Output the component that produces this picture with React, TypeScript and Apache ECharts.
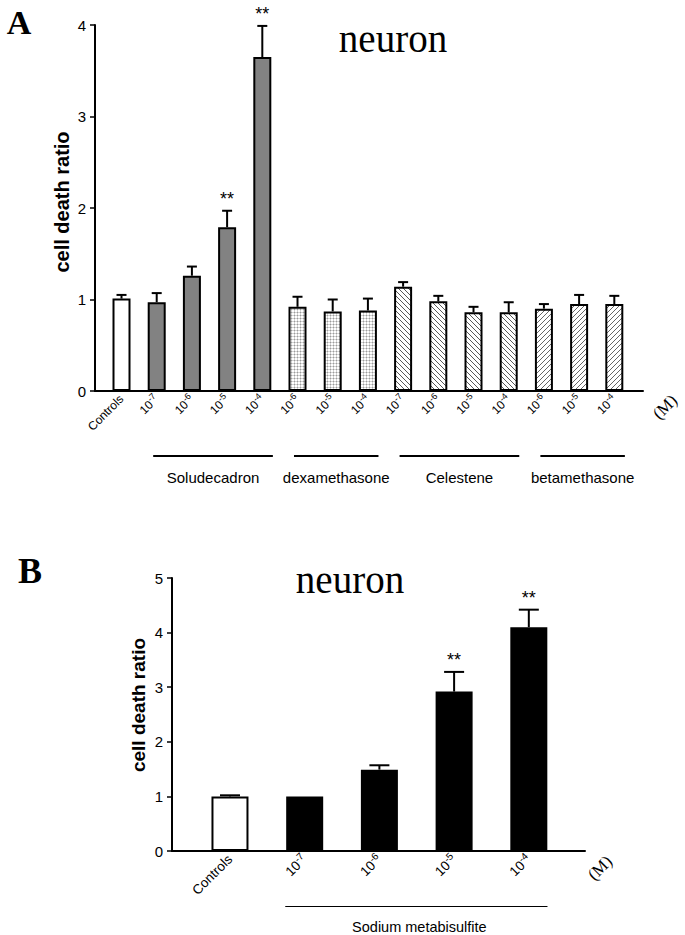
import React, { useEffect, useRef } from 'react';
import * as echarts from 'echarts';

// ---------- Panel A data ----------
const categoriesA = ['Controls', '10{s|-7}', '10{s|-6}', '10{s|-5}', '10{s|-4}', '10{s|-6}', '10{s|-5}', '10{s|-4}', '10{s|-7}', '10{s|-6}', '10{s|-5}', '10{s|-4}', '10{s|-6}', '10{s|-5}', '10{s|-4}'];
const meansA = [1.01, 0.97, 1.26, 1.79, 3.65, 0.92, 0.87, 0.88, 1.14, 0.98, 0.86, 0.86, 0.90, 0.95, 0.95];
const semA = [0.04, 0.10, 0.10, 0.18, 0.34, 0.11, 0.13, 0.13, 0.05, 0.06, 0.06, 0.11, 0.05, 0.10, 0.09];
const starsA = [0, 0, 0, 1, 1, 0, 0, 0, 0, 0, 0, 0, 0, 0, 0];
const fillA = ['control', 'solu', 'solu', 'solu', 'solu', 'dexa', 'dexa', 'dexa', 'cel', 'cel', 'cel', 'cel', 'beta', 'beta', 'beta'];
const groupsA = [
  { name: 'Soludecadron', from: 1, to: 4 },
  { name: 'dexamethasone', from: 5, to: 7 },
  { name: 'Celestene', from: 8, to: 11 },
  { name: 'betamethasone', from: 12, to: 14 },
];
const yTicksA = { min: 0, max: 4, interval: 1 };

// ---------- Panel B data ----------
const categoriesB = ['Controls', '10{s|-7}', '10{s|-6}', '10{s|-5}', '10{s|-4}'];
const meansB = [1.0, 1.0, 1.49, 2.92, 4.10];
const semB = [0.02, 0.0, 0.08, 0.36, 0.32];
const starsB = [0, 0, 0, 1, 1];
const fillB = ['control', 'sodium', 'sodium', 'sodium', 'sodium'];
const groupsB = [{ name: 'Sodium metabisulfite', from: 1, to: 4 }];
const yTicksB = { min: 0, max: 5, interval: 1 };

const SANS = 'Arial, "Liberation Sans", Helvetica, sans-serif';
const SERIF = '"Times New Roman", "Liberation Serif", serif';

function makePattern(kind: string): any {
  const size = kind === 'dexa' ? 3 : 5;
  const c = document.createElement('canvas');
  c.width = size;
  c.height = size;
  const ctx = c.getContext('2d')!;
  ctx.fillStyle = '#ffffff';
  ctx.fillRect(0, 0, size, size);
  if (kind === 'dexa') {
    ctx.fillStyle = '#d2d2d2';
    ctx.fillRect(0, 0, 3, 1);
    ctx.fillRect(0, 0, 1, 3);
    ctx.fillStyle = '#9c9c9c';
    ctx.fillRect(0, 0, 1, 1);
  } else if (kind === 'cel') {
    ctx.fillStyle = '#585858';
    for (let i = 0; i < size; i++) ctx.fillRect(i, i, 1, 1);
  } else if (kind === 'beta') {
    ctx.fillStyle = '#666666';
    for (let i = 0; i < size; i++) ctx.fillRect(size - 1 - i, i, 1, 1);
  }
  return { image: c, repeat: 'repeat', imageWidth: size, imageHeight: size };
}

function fillFor(kind: string): any {
  if (kind === 'control') return '#ffffff';
  if (kind === 'solu') return '#828282';
  if (kind === 'sodium') return '#000000';
  return makePattern(kind);
}

function errSeries(axisIdx: number, means: number[], sems: number[], stars: number[], capHalf: number, lw: number, starSize: number) {
  return {
    type: 'custom',
    xAxisIndex: axisIdx,
    yAxisIndex: axisIdx,
    z: 5,
    clip: false,
    data: means.map((m, i) => [i, m, sems[i], stars[i]]),
    renderItem: (params: any, api: any) => {
      const x = api.value(0);
      const m = api.value(1);
      const s = api.value(2);
      const st = api.value(3);
      const p0 = api.coord([x, m]);
      const p1 = api.coord([x, m + s]);
      const children: any[] = [];
      if (s > 0) {
        children.push({
          type: 'line',
          shape: { x1: p0[0], y1: p0[1], x2: p1[0], y2: p1[1] },
          style: { stroke: '#000', lineWidth: lw },
        });
        children.push({
          type: 'line',
          shape: { x1: p1[0] - capHalf, y1: p1[1], x2: p1[0] + capHalf, y2: p1[1] },
          style: { stroke: '#000', lineWidth: lw },
        });
      }
      if (st) {
        children.push({
          type: 'text',
          x: p1[0],
          y: p1[1] - 12,
          style: { text: '**', fontSize: starSize, fontFamily: SANS, fill: '#000', align: 'center', verticalAlign: 'middle' },
        });
      }
      return { type: 'group', children };
    },
  };
}

function barSeries(axisIdx: number, means: number[], fills: string[], width: number) {
  return {
    type: 'bar',
    xAxisIndex: axisIdx,
    yAxisIndex: axisIdx,
    barWidth: width,
    z: 3,
    data: means.map((m, i) => ({
      value: [i, m],
      itemStyle: { color: fillFor(fills[i]), borderColor: '#000', borderWidth: 2 },
    })),
  };
}

function xAxisFor(gridIndex: number, cats: string[], min: number, max: number, fontSize: number) {
  return {
    type: 'value',
    gridIndex,
    min,
    max,
    axisLine: { show: true, onZero: false, lineStyle: { color: '#000', width: 2 } },
    axisTick: { show: false },
    splitLine: { show: false },
    axisLabel: {
      customValues: cats.map((_, i) => i),
      formatter: (v: number) => cats[Math.round(v)] ?? '',
      rotate: 45,
      margin: 6,
      fontSize,
      lineHeight: fontSize + 4,
      fontFamily: SANS,
      color: '#000',
      rich: {
        s: { fontSize: Math.round(fontSize * 0.72), fontFamily: SANS, color: '#000', verticalAlign: 'top', lineHeight: Math.round(fontSize * 0.72) },
      },
    },
  };
}

function yAxisFor(gridIndex: number, t: { min: number; max: number; interval: number }) {
  return {
    type: 'value',
    gridIndex,
    min: t.min,
    max: t.max,
    interval: t.interval,
    axisLine: { show: true, onZero: false, lineStyle: { color: '#000', width: 2 } },
    axisTick: { show: true, length: 5, lineStyle: { color: '#000', width: 1.5 } },
    splitLine: { show: false },
    axisLabel: { margin: 9, fontSize: 15, fontFamily: SANS, color: '#000' },
  };
}

export default function App() {
  const ref = useRef<HTMLDivElement>(null);

  useEffect(() => {
    if (!ref.current) return;
    const chart = echarts.init(ref.current, undefined, { renderer: 'svg' });
    chart.setOption({
      animation: false,
      backgroundColor: '#ffffff',
      grid: [
        { left: 95, top: 25, width: 548, height: 366 },
        { left: 172, top: 578, width: 413, height: 273 },
      ],
      xAxis: [
        xAxisFor(0, categoriesA, -0.753, 14.815, 12),
        xAxisFor(1, categoriesB, -0.776, 4.752, 13.5),
      ],
      yAxis: [yAxisFor(0, yTicksA), yAxisFor(1, yTicksB)],
      series: [
        barSeries(0, meansA, fillA, 18),
        errSeries(0, meansA, semA, starsA, 5, 2, 18),
        barSeries(1, meansB, fillB, 37),
        errSeries(1, meansB, semB, starsB, 10, 2, 18),
      ],
    });

    const px = (axis: number, v: number) => chart.convertToPixel({ xAxisIndex: axis }, v) as number;
    const graphics: any[] = [];
    const txt = (text: string, x: number, y: number, fontSize: number, family: string, extra: any = {}) => ({
      type: 'text',
      x,
      y,
      rotation: extra.rotation || 0,
      style: {
        text,
        fontSize,
        fontFamily: family,
        fontWeight: extra.bold ? 'bold' : 'normal',
        fill: '#000',
        align: 'center',
        verticalAlign: 'middle',
      },
    });

    // Panel labels and titles
    graphics.push(txt('A', 19, 22, 34, SERIF, { bold: true }));
    graphics.push(txt('B', 30, 571, 36, SERIF, { bold: true }));
    graphics.push(txt('neuron', 393, 38, 39, SERIF));
    graphics.push(txt('neuron', 350, 579, 39, SERIF));
    // y-axis names
    graphics.push(txt('cell death ratio', 62, 202, 20, SANS, { bold: true, rotation: Math.PI / 2 }));
    graphics.push(txt('cell death ratio', 138, 705, 19, SANS, { bold: true, rotation: Math.PI / 2 }));
    // units
    graphics.push(txt('(M)', 665, 407, 17, SERIF, { rotation: Math.PI / 4 }));
    graphics.push(txt('(M)', 600, 868, 17, SERIF, { rotation: Math.PI / 4 }));

    // group lines and names, panel A
    groupsA.forEach((g) => {
      const x1 = px(0, g.from - 0.1);
      const x2 = px(0, g.to + 0.3);
      graphics.push({
        type: 'line',
        shape: { x1, y1: 456, x2, y2: 456 },
        style: { stroke: '#000', lineWidth: 2 },
      });
      graphics.push(txt(g.name, (x1 + x2) / 2, 477, 15, SANS));
    });
    // group line and name, panel B
    groupsB.forEach((g) => {
      const x1 = px(1, g.from - 0.26);
      const x2 = px(1, g.to + 0.25);
      graphics.push({
        type: 'line',
        shape: { x1, y1: 906.5, x2, y2: 906.5 },
        style: { stroke: '#000', lineWidth: 1 },
      });
      graphics.push(txt(g.name, (x1 + x2) / 2 + 3, 927, 14.5, SANS));
    });

    chart.setOption({ graphic: graphics });

    return () => chart.dispose();
  }, []);

  return <div ref={ref} style={{ position: 'absolute', left: 0, top: 0, width: 685, height: 935 }} />;
}
